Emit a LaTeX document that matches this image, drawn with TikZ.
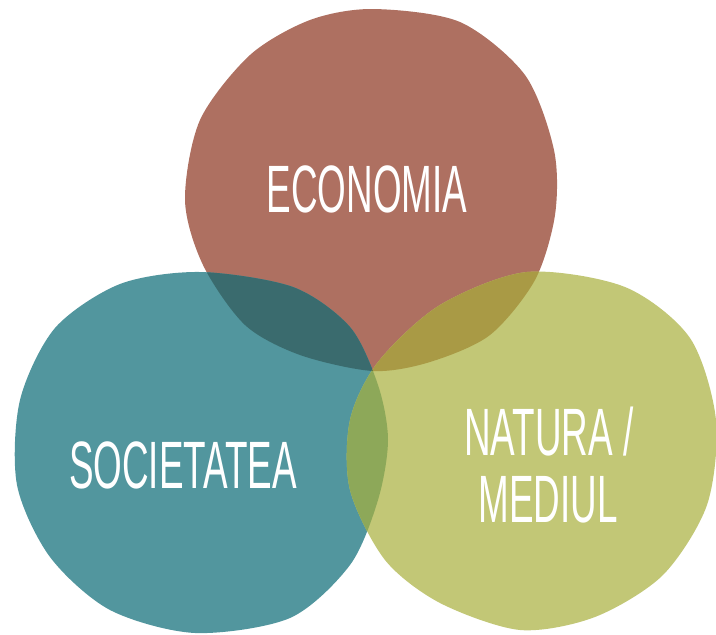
\documentclass[tikz,border=0pt]{standalone}
\usepackage{fontspec}
\newfontfamily\blobfont[FakeStretch=0.55]{Liberation Sans}
\usetikzlibrary{positioning}

\definecolor{econ}{HTML}{AE7061}
\definecolor{soc}{HTML}{52969E}
\definecolor{nat}{HTML}{C2C776}
\definecolor{econsoc}{HTML}{3A6B6E}
\definecolor{econnat}{HTML}{A99A45}
\definecolor{socnat}{HTML}{8DA859}
\definecolor{allthree}{HTML}{63763E}

% the three blobs, in pixel coordinates (y downwards)
\newcommand{\econblob}{plot[smooth cycle] coordinates {(373,9) (460,22) (525,75) (554,150) (555,215) (535,280) (490,335) (430,362) (373,371) (300,355) (245,325) (203,265) (185,200) (200,120) (250,55) (310,20)}}
\newcommand{\socblob}{plot[smooth cycle] coordinates {(200,272) (293,287) (350,327) (378,385) (388,440) (378,500) (350,565) (290,618) (195,633) (110,610) (50,557) (17,485) (20,400) (55,328) (120,284)}}
\newcommand{\natblob}{plot[smooth cycle] coordinates {(527,272) (625,287) (690,338) (716,420) (707,505) (663,575) (595,617) (520,630) (440,603) (385,560) (350,490) (350,420) (378,362) (440,305)}}

\begin{document}
\begin{tikzpicture}[x=1pt, y=-1pt,
  blobtext/.style={text=white, font=\blobfont\fontsize{67}{67}\selectfont, inner sep=0pt, anchor=base}]
\useasboundingbox (0,0) rectangle (716,635);

\fill[econ] \econblob;
\fill[soc] \socblob;
\fill[nat] \natblob;

% overlaps
\begin{scope} \clip \econblob; \fill[econsoc] \socblob; \end{scope}
\begin{scope} \clip \econblob; \fill[econnat] \natblob; \end{scope}
\begin{scope} \clip \socblob; \fill[socnat] \natblob; \end{scope}
\begin{scope} \clip \econblob; \clip \socblob; \fill[allthree] \natblob; \end{scope}

\node[blobtext] (econ) at (367,212) {ECONOMIA};
\node[blobtext] (soc)  at (183,488) {SOCIETATEA};
\node[blobtext] (nat)  at (549,455) {NATURA /};
\node[blobtext] (med)  at (548,522) {MEDIUL};

\end{tikzpicture}
\end{document}
